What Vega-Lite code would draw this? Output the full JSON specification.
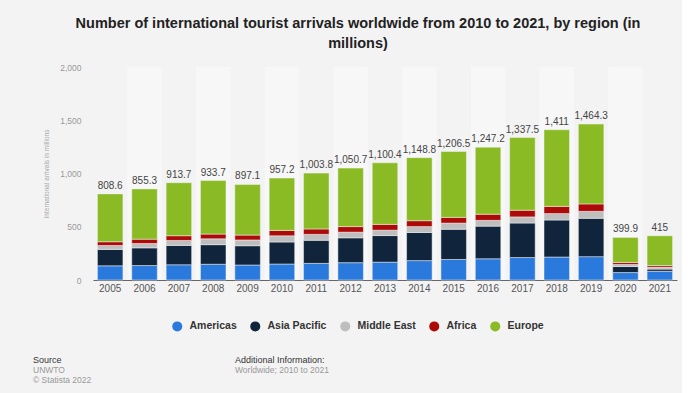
{
  "$schema": "https://vega.github.io/schema/vega-lite/v6.json",
  "background": "#f3f3f3",
  "padding": {"left": 33, "top": 15, "right": 5, "bottom": 5},
  "config": {"view": {"stroke": null}, "font": "Liberation Sans"},
  "title": {
    "text": ["Number of international tourist arrivals worldwide from 2010 to 2021, by region (in", "millions)"],
    "font": "Liberation Sans", "fontSize": 14.5, "fontWeight": "bold", "color": "#222",
    "anchor": "middle", "dx": 3, "lineHeight": 20, "offset": 12
  },
  "datasets": {
    "arrivals": [
      {"year": "2005", "region": "Americas", "value": 133.3}, {"year": "2005", "region": "Asia Pacific", "value": 154.0}, {"year": "2005", "region": "Middle East", "value": 37.0}, {"year": "2005", "region": "Africa", "value": 34.8}, {"year": "2005", "region": "Europe", "value": 449.5},
      {"year": "2006", "region": "Americas", "value": 135.8}, {"year": "2006", "region": "Asia Pacific", "value": 166.0}, {"year": "2006", "region": "Middle East", "value": 40.9}, {"year": "2006", "region": "Africa", "value": 40.7}, {"year": "2006", "region": "Europe", "value": 471.9},
      {"year": "2007", "region": "Americas", "value": 142.9}, {"year": "2007", "region": "Asia Pacific", "value": 182.0}, {"year": "2007", "region": "Middle East", "value": 46.6}, {"year": "2007", "region": "Africa", "value": 44.4}, {"year": "2007", "region": "Europe", "value": 497.8},
      {"year": "2008", "region": "Americas", "value": 147.8}, {"year": "2008", "region": "Asia Pacific", "value": 184.0}, {"year": "2008", "region": "Middle East", "value": 55.2}, {"year": "2008", "region": "Africa", "value": 44.4}, {"year": "2008", "region": "Europe", "value": 502.3},
      {"year": "2009", "region": "Americas", "value": 140.7}, {"year": "2009", "region": "Asia Pacific", "value": 181.1}, {"year": "2009", "region": "Middle East", "value": 54.1}, {"year": "2009", "region": "Africa", "value": 45.9}, {"year": "2009", "region": "Europe", "value": 475.3},
      {"year": "2010", "region": "Americas", "value": 150.1}, {"year": "2010", "region": "Asia Pacific", "value": 206.8}, {"year": "2010", "region": "Middle East", "value": 58.2}, {"year": "2010", "region": "Africa", "value": 50.3}, {"year": "2010", "region": "Europe", "value": 491.8},
      {"year": "2011", "region": "Americas", "value": 155.9}, {"year": "2011", "region": "Asia Pacific", "value": 217.3}, {"year": "2011", "region": "Middle East", "value": 55.5}, {"year": "2011", "region": "Africa", "value": 50.7}, {"year": "2011", "region": "Europe", "value": 524.4},
      {"year": "2012", "region": "Americas", "value": 162.7}, {"year": "2012", "region": "Asia Pacific", "value": 233.5}, {"year": "2012", "region": "Middle East", "value": 53.0}, {"year": "2012", "region": "Africa", "value": 52.4}, {"year": "2012", "region": "Europe", "value": 549.1},
      {"year": "2013", "region": "Americas", "value": 167.5}, {"year": "2013", "region": "Asia Pacific", "value": 249.7}, {"year": "2013", "region": "Middle East", "value": 50.8}, {"year": "2013", "region": "Africa", "value": 54.4}, {"year": "2013", "region": "Europe", "value": 578.0},
      {"year": "2014", "region": "Americas", "value": 181.9}, {"year": "2014", "region": "Asia Pacific", "value": 264.3}, {"year": "2014", "region": "Middle East", "value": 55.4}, {"year": "2014", "region": "Africa", "value": 55.3}, {"year": "2014", "region": "Europe", "value": 591.9},
      {"year": "2015", "region": "Americas", "value": 192.7}, {"year": "2015", "region": "Asia Pacific", "value": 284.1}, {"year": "2015", "region": "Middle East", "value": 57.5}, {"year": "2015", "region": "Africa", "value": 53.6}, {"year": "2015", "region": "Europe", "value": 618.6},
      {"year": "2016", "region": "Americas", "value": 199.3}, {"year": "2016", "region": "Asia Pacific", "value": 306.6}, {"year": "2016", "region": "Middle East", "value": 54.0}, {"year": "2016", "region": "Africa", "value": 57.7}, {"year": "2016", "region": "Europe", "value": 629.6},
      {"year": "2017", "region": "Americas", "value": 210.9}, {"year": "2017", "region": "Asia Pacific", "value": 324.1}, {"year": "2017", "region": "Middle East", "value": 57.4}, {"year": "2017", "region": "Africa", "value": 62.7}, {"year": "2017", "region": "Europe", "value": 682.4},
      {"year": "2018", "region": "Americas", "value": 215.7}, {"year": "2018", "region": "Asia Pacific", "value": 347.7}, {"year": "2018", "region": "Middle East", "value": 60.5}, {"year": "2018", "region": "Africa", "value": 67.1}, {"year": "2018", "region": "Europe", "value": 720.0},
      {"year": "2019", "region": "Americas", "value": 219.3}, {"year": "2019", "region": "Asia Pacific", "value": 360.1}, {"year": "2019", "region": "Middle East", "value": 65.1}, {"year": "2019", "region": "Africa", "value": 69.9}, {"year": "2019", "region": "Europe", "value": 749.9},
      {"year": "2020", "region": "Americas", "value": 69.9}, {"year": "2020", "region": "Asia Pacific", "value": 56.5}, {"year": "2020", "region": "Middle East", "value": 19.9}, {"year": "2020", "region": "Africa", "value": 18.6}, {"year": "2020", "region": "Europe", "value": 235.0},
      {"year": "2021", "region": "Americas", "value": 81.9}, {"year": "2021", "region": "Asia Pacific", "value": 20.6}, {"year": "2021", "region": "Middle East", "value": 18.1}, {"year": "2021", "region": "Africa", "value": 15.5}, {"year": "2021", "region": "Europe", "value": 278.9}
    ],
    "bands": [
      {"year": "2006"}, {"year": "2008"}, {"year": "2010"}, {"year": "2012"}, {"year": "2014"}, {"year": "2016"}, {"year": "2018"}, {"year": "2020"}
    ]
  },
  "bounds": "flush",
  "spacing": 112,
  "vconcat": [
    {
      "width": 584,
      "height": 213,
      "layer": [
        {
          "data": {"name": "bands"},
          "mark": {"type": "bar", "color": "#ffffff", "opacity": 0.35, "width": {"band": 1.35}},
          "encoding": {
            "x": {"field": "year", "type": "ordinal"},
            "y": {"datum": 2000, "type": "quantitative"},
            "y2": {"datum": 0}
          }
        },
        {
          "data": {"name": "arrivals"},
          "transform": [{"calculate": "indexof(['Americas','Asia Pacific','Middle East','Africa','Europe'], datum.region)", "as": "ord"}],
          "mark": {"type": "bar", "stroke": "#f3f3f3", "strokeWidth": 0.5},
          "encoding": {
            "x": {
              "field": "year", "type": "ordinal", "title": null,
              "scale": {"paddingInner": 0.257, "paddingOuter": 0.1285},
              "axis": {"labelAngle": 0, "labelAlign": "center", "bandPosition": 0.5, "labelColor": "#555", "labelFontSize": 10, "ticks": false, "domainColor": "#666", "domainWidth": 1, "labelPadding": 8, "grid": false}
            },
            "y": {
              "field": "value", "type": "quantitative", "stack": "zero",
              "scale": {"domain": [0, 2000]},
              "title": "International arrivals in millions",
              "axis": {"values": [0, 500, 1000, 1500, 2000], "format": ",.0f", "titleFontSize": 6.5, "titleFontWeight": "normal", "titleColor": "#aaa", "titlePadding": 10, "labelColor": "#999", "labelFontSize": 8.5, "labelPadding": 12, "ticks": false, "domain": false, "gridColor": "#e2e2e2"}
            },
            "order": {"field": "ord", "type": "quantitative", "sort": "ascending"},
            "color": {
              "field": "region", "type": "nominal",
              "sort": ["Americas", "Asia Pacific", "Middle East", "Africa", "Europe"],
              "scale": {"domain": ["Americas", "Asia Pacific", "Middle East", "Africa", "Europe"], "range": ["#2a79dd", "#10253c", "#bebebe", "#ad0909", "#8bbb24"]},
              "legend": {"orient": "none", "legendX": 79, "legendY": 254, "direction": "horizontal", "title": null, "symbolType": "circle", "symbolSize": 100, "symbolStrokeWidth": 0, "labelFontSize": 10.5, "labelFontWeight": "bold", "labelColor": "#333", "columnPadding": 13, "labelOffset": 7}
            }
          }
        },
        {
          "data": {"name": "arrivals"},
          "transform": [{"aggregate": [{"op": "sum", "field": "value", "as": "total"}], "groupby": ["year"]}],
          "mark": {"type": "text", "baseline": "bottom", "dy": -3, "fontSize": 10, "color": "#444"},
          "encoding": {
            "x": {"field": "year", "type": "ordinal"},
            "y": {"field": "total", "type": "quantitative"},
            "text": {"field": "total", "type": "quantitative", "format": ",.1~f"}
          }
        }
      ]
    },
    {
      "bounds": "flush",
      "spacing": 10,
      "hconcat": [
        {
          "width": 192, "height": 1,
          "data": {"values": [{"t": ""}]},
          "mark": {"type": "text"},
          "encoding": {"text": {"field": "t"}},
          "title": {"text": "Source", "subtitle": ["UNWTO", "© Statista 2022"], "anchor": "start", "frame": "group", "dx": -60, "offset": 2, "fontSize": 9, "fontWeight": "normal", "color": "#333", "subtitleFontSize": 8.5, "subtitleColor": "#999", "subtitleLineHeight": 10, "subtitlePadding": 1}
        },
        {
          "width": 100, "height": 1,
          "data": {"values": [{"t": ""}]},
          "mark": {"type": "text"},
          "encoding": {"text": {"field": "t"}},
          "title": {"text": "Additional Information:", "subtitle": "Worldwide; 2010 to 2021", "anchor": "start", "frame": "group", "dx": -60, "offset": 12, "fontSize": 9, "fontWeight": "normal", "color": "#333", "subtitleFontSize": 8.5, "subtitleColor": "#999", "subtitleLineHeight": 10, "subtitlePadding": 1}
        }
      ]
    }
  ]
}
